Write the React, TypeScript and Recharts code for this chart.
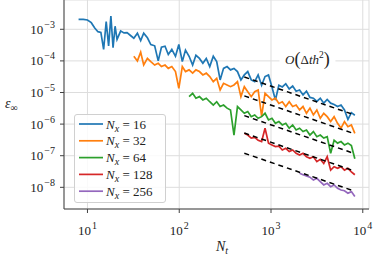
import { CartesianGrid, Legend, Line, LineChart, ReferenceDot, XAxis, YAxis } from 'recharts';

const SERIF = '"Liberation Serif", "DejaVu Serif", serif';
const AXIS = '#404040';

// shared time-step grid (N_t)
const nt = [
  8, 9, 10, 11, 12, 13, 14, 15, 16, 17, 18, 19, 20, 21, 23, 25, 27, 29,
  32, 35, 38, 41, 45, 49, 54, 59, 64, 70, 76, 83, 91, 99, 108, 117,
  128, 140, 152, 166, 181, 197, 215, 235, 256, 279, 304, 332, 362, 395, 431, 470,
  512, 558, 609, 664, 724, 790, 861, 939, 1024, 1117, 1218, 1328, 1448, 1579, 1722, 1878,
  2048, 2233, 2435, 2656, 2896, 3158, 3444, 3756, 4096, 4467, 4871, 5312, 5793, 6317, 6889, 7512, 8192,
];

const err16 = [
  2.07e-3, 2.07e-3, 1.97e-3, 1.62e-3, 1.1e-3, 8.4e-4, 8.0e-4, 2.3e-4, 1.75e-3, 3.0e-4, 2.6e-3, 2.6e-4, 1.25e-3, 4.8e-4,
  8.8e-4, 7.7e-4, 7.8e-4, 6.6e-4,
  5.2e-4, 7.5e-4, 4.4e-4, 7.5e-4, 5.4e-4, 3.3e-4, 3.0e-4, 1.0e-4,
  2.7e-4, 2.9e-4, 1.6e-4, 2.3e-4, 1.4e-4, 3.3e-4, 9.5e-5, 2.2e-4,
  1.4e-4, 7.4e-5, 1.5e-4, 1.2e-4, 8.4e-5, 1.2e-4, 6.6e-5, 1.4e-4,
  9.5e-5, 2.5e-5, 5.8e-5, 6.6e-5, 5.2e-5, 5.8e-5, 4.6e-5, 2.5e-5,
  3.6e-5, 4.6e-5, 2.5e-5, 2.2e-5, 3.6e-5, 1.7e-5, 3.2e-5, 3.6e-5,
  1.5e-5, 5.8e-6, 1.7e-5, 1.5e-5, 1.9e-5, 1.3e-5, 1.6e-5, 1.1e-5,
  1.2e-5, 8.4e-6, 1.1e-5, 7.0e-6, 6.6e-6, 5.2e-6, 6.6e-6, 4.6e-6,
  6.0e-6, 4.6e-6, 4.2e-6, 3.6e-6, 4.0e-6, 2.8e-6, 1.4e-6, 2.3e-6,
  1.9e-6,
];

const err32 = [
  1.4e-4, 1.0e-4, 1.9e-4, 7.4e-5, 1.2e-4, 9.5e-5, 7.4e-5, 8.4e-5,
  6.6e-5, 7.4e-5, 5.8e-5, 6.6e-5, 4.6e-5, 1.36e-5, 6.6e-5, 4.6e-5,
  5.2e-5, 4.1e-5, 5.2e-5, 4.6e-5, 3.6e-5, 4.1e-5, 3.2e-5, 2.2e-5,
  2.8e-5, 1.2e-5, 1.95e-5, 1.73e-5, 1.53e-5, 1.73e-5, 2.2e-5, 7.4e-6,
  1.53e-5, 1.06e-5, 7.4e-6, 1.06e-5, 1.2e-5, 1.8e-6, 9.4e-6, 7.4e-6,
  5.8e-6, 6.6e-6, 4.5e-6, 5.1e-6, 3.6e-6, 5.1e-6, 3.6e-6, 4.0e-6,
  2.8e-6, 3.6e-6, 2.2e-6, 3.2e-6, 1.95e-6, 2.8e-6, 1.53e-6, 2.2e-6,
  1.72e-6, 1.2e-6, 1.72e-6, 1.06e-6, 7.4e-7, 1.2e-6, 8.3e-7, 9.4e-7,
  5.1e-7,
];

const err64 = [
  7.4e-6, 9.4e-6, 6.6e-6, 7.4e-6, 5.8e-6, 6.6e-6, 5.1e-6, 4.0e-6,
  5.1e-6, 3.6e-6, 4.0e-6, 3.2e-6, 2.8e-6, 4.5e-7, 3.6e-6, 2.8e-6,
  2.2e-6, 2.5e-6, 1.72e-6, 1.95e-6, 1.53e-6, 1.72e-6, 2.2e-6, 1.35e-6,
  1.53e-6, 1.06e-6, 1.2e-6, 9.4e-7, 1.06e-6, 7.4e-7, 9.4e-7, 6.5e-7,
  7.4e-7, 5.8e-7, 6.5e-7, 4.5e-7, 5.8e-7, 4.0e-7, 4.5e-7, 3.6e-7,
  4.0e-7, 1.2e-7, 3.1e-7, 2.5e-7, 2.8e-7, 2.2e-7, 2.5e-7, 2.1e-7,
  8.0e-8,
];

const err128 = [
  5.1e-7, 4.5e-7, 3.6e-7, 3.8e-7, 3.1e-7, 2.8e-7, 7.4e-7, 2.5e-7,
  2.2e-7, 1.94e-7, 2.0e-7, 1.52e-7, 1.71e-7, 1.35e-7, 1.52e-7, 1.19e-7,
  1.05e-7, 1.19e-7, 9.3e-8, 8.3e-8, 9.3e-8, 6.5e-8, 7.7e-8, 5.7e-8,
  9.3e-8, 3.5e-8, 4.5e-8, 4.0e-8, 4.5e-8, 3.5e-8, 4.0e-8, 3.1e-8,
  2.5e-8,
];

const err256 = [
  2.8e-8, 2.5e-8, 2.3e-8, 2.1e-8, 1.7e-8, 1.93e-8, 1.51e-8, 1.19e-8,
  1.34e-8, 1.05e-8, 1.19e-8, 9.3e-9, 8.2e-9, 7.8e-9, 6.5e-9, 7.3e-9,
  5.1e-9,
];

// first-order reference slopes
const refNt = [512, 8192];
const refStart = [3.1e-5, 7.8e-6, 1.85e-6, 5.2e-7, 1.2e-7];
const refEnd = [1.94e-6, 4.9e-7, 1.16e-7, 3.25e-8, 7.5e-9];

const xTicks = [10, 100, 1000, 10000];
const yTicks = [1e-8, 1e-7, 1e-6, 1e-5, 1e-4, 1e-3];

const build = (first: number, vals: number[]) =>
  vals.map((y, i) => ({ x: nt[nt.indexOf(first) + i], y }));

const series = [
  { name: '16', color: '#1f77b4', data: build(8, err16) },
  { name: '32', color: '#ff7f0e', data: build(32, err32) },
  { name: '64', color: '#2ca02c', data: build(128, err64) },
  { name: '128', color: '#d62728', data: build(512, err128) },
  { name: '256', color: '#9467bd', data: build(2048, err256) },
];

const refLines = refStart.map((s, i) => [
  { x: refNt[0], y: s },
  { x: refNt[1], y: refEnd[i] },
]);

const expLabel = (v: number) => {
  const e = Math.round(Math.log10(v));
  return (e < 0 ? '\u2212' : '') + Math.abs(e);
};

const XTick = ({ x, y, payload }: any) => (
  <text x={x} y={y + 20} textAnchor="middle" fontFamily={SERIF} fontSize={13} fill="#222">
    <tspan>10</tspan>
    <tspan dx={1} dy={-6} fontSize={10}>{expLabel(payload.value)}</tspan>
  </text>
);

const YTick = ({ x, y, payload }: any) => (
  <text x={x - 3} y={y + 4.5} textAnchor="end" fontFamily={SERIF} fontSize={13} fill="#222">
    <tspan>10</tspan>
    <tspan dx={1} dy={-6} fontSize={10}>{expLabel(payload.value)}</tspan>
  </text>
);

const Annotation = ({ viewBox }: any) => {
  const cx = viewBox.x + (viewBox.width || 0) / 2;
  const cy = viewBox.y + (viewBox.height || 0) / 2;
  return (
    <g>
      <rect x={cx - 28} y={cy - 12} width={56} height={24} fill="#fff" />
      <text x={cx} y={cy + 4} textAnchor="middle" fontFamily={SERIF} fontSize={13} fill="#222">
        <tspan fontStyle="italic">O</tspan>
        <tspan fontSize={18} dy={1}>(</tspan>
        <tspan dy={-1}>Δ</tspan>
        <tspan fontStyle="italic">th</tspan>
        <tspan fontSize={9.5} dy={-6}>2</tspan>
        <tspan fontSize={18} dy={7}>)</tspan>
      </text>
    </g>
  );
};

const renderLegend = () => (
  <div
    style={{
      width: 92,
      height: 89,
      boxSizing: 'border-box',
      border: '1px solid #d0d0d0',
      borderRadius: 3,
      background: 'rgba(255,255,255,0.85)',
    }}
  >
    <svg width={90} height={87} style={{ display: 'block' }}>
      {series.map((s, i) => {
        const cy = 9 + i * 16.8;
        return (
          <g key={s.name}>
            <line x1={4} x2={28} y1={cy} y2={cy} stroke={s.color} strokeWidth={1.7} />
            <text x={31} y={cy + 4.5} fontFamily={SERIF} fontSize={13} fill="#222">
              <tspan fontStyle="italic">N</tspan>
              <tspan fontStyle="italic" fontSize={10} dy={3}>x</tspan>
              <tspan dy={-3}>{'\u00a0=\u00a0' + s.name}</tspan>
            </text>
          </g>
        );
      })}
    </svg>
  </div>
);

export default function App() {
  return (
    <div style={{ position: 'absolute', left: 0, top: 0, width: 377, height: 258, background: '#fff' }}>
      <LineChart width={377} height={258} margin={{ top: 0, right: 8, bottom: 0, left: 0 }}>
        <CartesianGrid stroke="#dddddd" strokeWidth={1} />
        <XAxis
          dataKey="x"
          type="number"
          scale="log"
          domain={[5.55, 11690]}
          allowDataOverflow
          ticks={xTicks}
          interval={0}
          height={49}
          tick={<XTick />}
          tickSize={4}
          axisLine={{ stroke: AXIS }}
          tickLine={{ stroke: AXIS }}
          label={{
            content: () => (
              <text x={216} y={251} fontFamily={SERIF} fontSize={14} fill="#222">
                <tspan fontStyle="italic">N</tspan>
                <tspan fontStyle="italic" fontSize={10} dy={3}>t</tspan>
              </text>
            ),
          }}
        />
        <YAxis
          type="number"
          scale="log"
          domain={[2.06e-9, 8.45e-3]}
          allowDataOverflow
          ticks={yTicks}
          interval={0}
          width={64}
          tick={<YTick />}
          tickSize={4}
          axisLine={{ stroke: AXIS }}
          tickLine={{ stroke: AXIS }}
          label={{
            content: () => (
              <text x={5} y={108} fontFamily={SERIF} fontSize={14} fill="#222">
                <tspan fontStyle="italic">ε</tspan>
                <tspan fontSize={10} dy={3}>∞</tspan>
              </text>
            ),
          }}
        />
        <YAxis
          yAxisId="right"
          orientation="right"
          type="number"
          domain={[0, 1]}
          width={0}
          tick={false}
          tickLine={false}
          axisLine={{ stroke: AXIS }}
        />
        {series.map((s) => (
          <Line
            key={s.name}
            data={s.data}
            dataKey="y"
            type="linear"
            stroke={s.color}
            strokeWidth={1.7}
            dot={false}
            isAnimationActive={false}
          />
        ))}
        {refLines.map((d, i) => (
          <Line
            key={'ref' + i}
            data={d}
            dataKey="y"
            type="linear"
            stroke="#000"
            strokeWidth={1.5}
            strokeDasharray="5 4"
            dot={false}
            legendType="none"
            isAnimationActive={false}
          />
        ))}
        <ReferenceDot x={2494} y={1.07e-4} r={0} fill="none" stroke="none" label={{ content: Annotation }} />
        <Legend
          layout="vertical"
          align="center"
          verticalAlign="middle"
          content={renderLegend}
          wrapperStyle={{ left: 74, top: 114, width: 92, height: 89 }}
        />
      </LineChart>
    </div>
  );
}
